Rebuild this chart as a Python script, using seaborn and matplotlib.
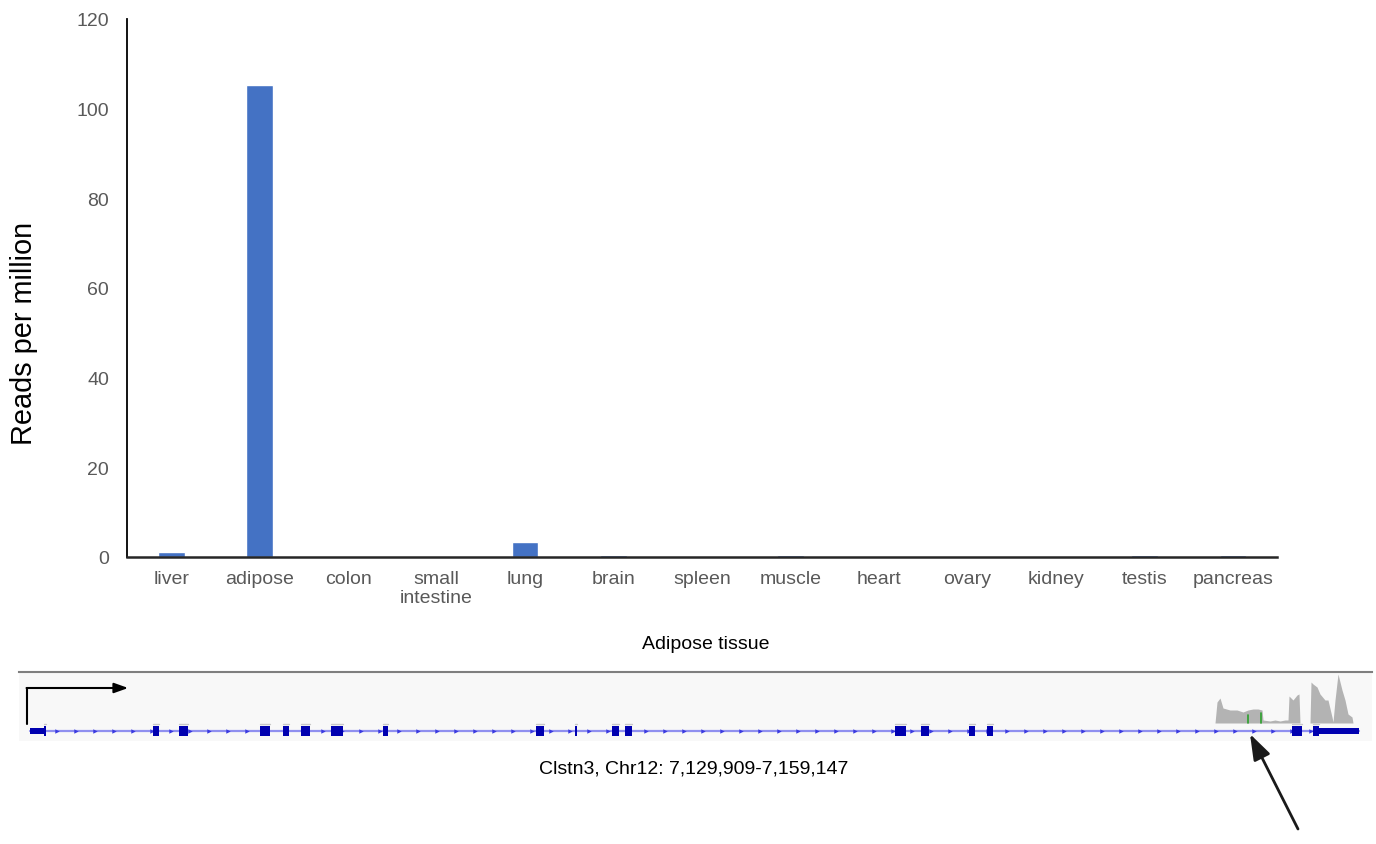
import numpy as np
import pandas as pd
import matplotlib
matplotlib.use("Agg")
import matplotlib.pyplot as plt
import seaborn as sns

# ---------------- data ----------------
tissues = ["liver", "adipose", "colon", "small\nintestine", "lung", "brain", "spleen",
           "muscle", "heart", "ovary", "kidney", "testis", "pancreas"]
reads_per_million = [1.2, 105.3, 0.0, 0.0, 3.3, 0.5, 0.0, 0.5, 0.0, 0.0, 0.0, 0.5, 0.5]
y_ticks = [0, 20, 40, 60, 80, 100, 120]

# gene track (positions in kb from 7,129,909)
gene_length_kb = 29.238
utr_blocks = [(0.0, 0.308), (28.358, 29.238)]
exon_blocks = [(0.308, 0.352), (2.706, 2.838), (3.278, 3.476), (5.06, 5.28), (5.566, 5.698),
               (5.962, 6.16), (6.622, 6.886), (7.766, 7.876), (11.132, 11.308), (11.99, 12.034),
               (12.804, 12.958), (13.09, 13.244), (19.03, 19.272), (19.602, 19.778),
               (20.658, 20.79), (21.054, 21.186), (27.764, 27.984), (28.226, 28.358)]
cov1_x = [26.07, 26.114, 26.18, 26.246, 26.4, 26.554, 26.686, 26.796, 26.906, 27.016, 27.104,
          27.126, 27.28, 27.39, 27.5, 27.61, 27.676, 27.698, 27.786, 27.874, 27.918, 27.94]
cov1_y = [0, 21, 25, 15, 13, 13, 11, 13, 14, 14, 13, 3, 2, 3, 2, 3, 3, 27, 23, 28, 29, 0]
cov2_x = [28.16, 28.182, 28.226, 28.314, 28.38, 28.49, 28.556, 28.644, 28.666, 28.71, 28.776,
          28.864, 28.93, 28.996, 29.084, 29.106]
cov2_y = [0, 41, 39, 36, 29, 23, 23, 6, 1, 23, 49, 33, 23, 9, 6, 0]
snp_x = [26.796, 27.082]
snp_y = [8, 10]
arrow_target_kb = 26.84

track_label = "Clstn3, Chr12: 7,129,909-7,159,147"
panel_title = "Adipose tissue"

# ---------------- style ----------------
sns.set_theme(style="white")
plt.rcParams["font.family"] = ["Liberation Sans", "DejaVu Sans"]

W, H = 1376, 845
fig = plt.figure(figsize=(W / 100, H / 100), dpi=100)

# ---------------- bar chart ----------------
ax = fig.add_axes([127 / W, 1 - 558 / H, (1277 - 127) / W, (558 - 20) / H])
df = pd.DataFrame({"tissue": tissues, "rpm": reads_per_million})
sns.barplot(data=df, x="tissue", y="rpm", color="#4472C4", width=0.3, ax=ax,
            saturation=1, errorbar=None)
ax.set_ylim(0, 120)
ax.set_yticks(y_ticks)
ax.set_xlim(-0.5, len(tissues) - 0.5)
ax.tick_params(axis="both", length=0, labelsize=14, labelcolor="#595959")
ax.tick_params(axis="y", pad=13)
ax.tick_params(axis="x", pad=9)
ax.set_xlabel("")
ax.set_ylabel("Reads per million", fontsize=20.8, color="#000000")
ax.yaxis.set_label_coords(-0.0774, 0.418)
for s in ["top", "right"]:
    ax.spines[s].set_visible(False)
ax.spines["left"].set_color("#000000")
ax.spines["left"].set_linewidth(1.3)
ax.spines["bottom"].set_color("#262626")
ax.spines["bottom"].set_linewidth(1.8)
ax.grid(False)

fig.text(706 / W, 1 - 645 / H, panel_title, ha="center", va="center", fontsize=14, color="#000000")

# ---------------- gene track ----------------
px = 0.022  # kb per pixel
x0px = 30
tx_left, tx_right = 19, 1372
ty_top, ty_bot = 673, 742
tax = fig.add_axes([tx_left / W, 1 - ty_bot / H, (tx_right - tx_left) / W, (ty_bot - ty_top) / H])
tax.set_xlim((tx_left - x0px) * px, (tx_right - x0px) * px)
tax.set_ylim(-18, 51)
tax.set_facecolor("#f8f8f8")
for s in ["left", "right", "bottom"]:
    tax.spines[s].set_visible(False)
tax.spines["top"].set_color("#7f7f7f")
tax.spines["top"].set_linewidth(1.5)
tax.set_xticks([])
tax.set_yticks([])

line_y = -8
tax.plot([0, gene_length_kb], [line_y, line_y], color="#8f8fef", lw=1.6, zorder=2)
chev = np.arange(0.6, gene_length_kb - 0.3, 19 * px)
tax.plot(chev, np.full_like(chev, line_y), ls="none", marker=">", ms=3.2, color="#3a3ae0",
         mew=0, zorder=3)
for a, b in utr_blocks:
    tax.fill_between([a, b], line_y - 2.6, line_y + 2.6, color="#0000b0", lw=0, zorder=4)
for a, b in exon_blocks:
    tax.fill_between([a, b], line_y - 4.6, line_y + 4.6, color="#0000b0", lw=0, zorder=4)
    tax.plot([a, b], [line_y + 7.5, line_y + 7.5], color="#c8c8c8", lw=1.0, zorder=3)

tax.fill_between(cov1_x, 0, cov1_y, color="#b3b3b3", lw=0, zorder=2)
tax.fill_between(cov2_x, 0, cov2_y, color="#b3b3b3", lw=0, zorder=2)
for sx, sy in zip(snp_x, snp_y):
    tax.plot([sx, sx], [0, sy], color="#2ca02c", lw=1.2, zorder=3)

# TSS arrow
tax.plot([(27 - x0px) * px] * 2, [-1, 35], color="#000000", lw=1.5, zorder=5, clip_on=False)
tax.annotate("", xy=(2.16, 35), xytext=((27 - x0px) * px - 0.01, 35),
             arrowprops=dict(arrowstyle="-|>,head_length=0.7,head_width=0.25", color="#000000",
                             lw=1.5, shrinkA=0, shrinkB=0), annotation_clip=False)

# pointer arrow
tax.annotate("", xy=(arrow_target_kb, -11), xycoords="data",
             xytext=(1298, H - 830), textcoords="figure pixels",
             arrowprops=dict(arrowstyle="-|>,head_length=1.3,head_width=0.45", color="#1a1a1a",
                             lw=2, shrinkA=0, shrinkB=0), annotation_clip=False)

fig.text(694 / W, 1 - 769 / H, track_label, ha="center", va="center", fontsize=14, color="#000000")

fig.savefig("out.png", dpi=100)
